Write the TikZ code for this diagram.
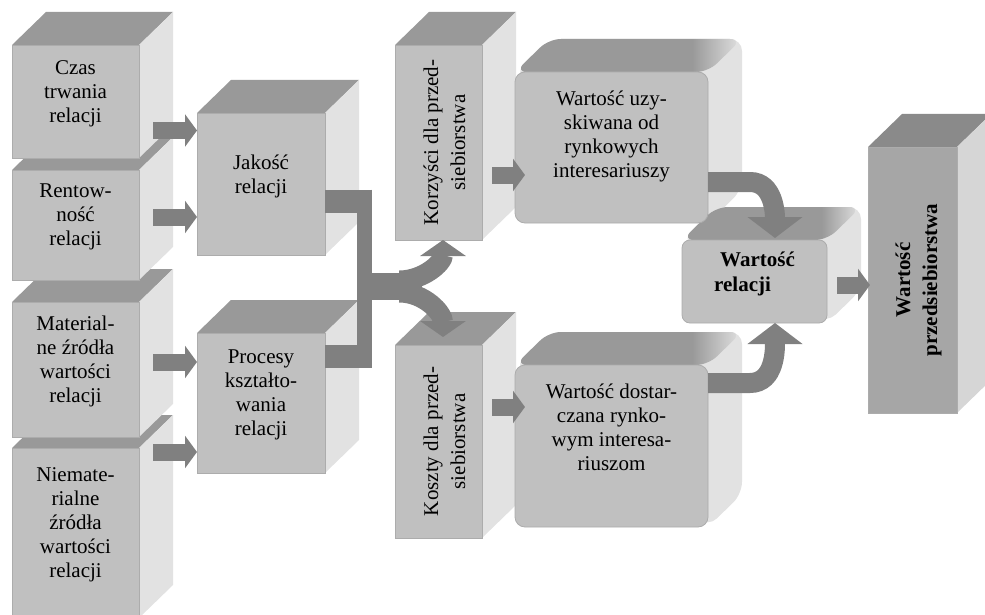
\documentclass[tikz,border=0pt]{standalone}
\usepackage{fontspec}
\setmainfont{Liberation Serif}
\usetikzlibrary{arrows.meta}

\definecolor{frontgray}{RGB}{192,192,192}
\definecolor{topgray}{RGB}{153,153,153}
\definecolor{sidegray}{RGB}{226,226,226}
\definecolor{edgegray}{RGB}{172,172,172}
\definecolor{flowgray}{RGB}{128,128,128}
\definecolor{darkfront}{RGB}{166,166,166}
\definecolor{darktop}{RGB}{138,138,138}
\definecolor{darkside}{RGB}{214,214,214}

\pgfdeclarelayer{back}
\pgfsetlayers{back,main}

\pgfdeclarehorizontalshading{topfade}{100bp}{color(0bp)=(topgray); color(64bp)=(topgray); color(75bp)=(sidegray); color(100bp)=(sidegray)}

% top and right face of a box, behind its front node
\newcommand{\boxfaces}[3]{%
  \begin{pgfonlayer}{back}
    \fill[#2] (#1.north west) -- ++(34,-33) -- ([shift={(34,-33)}]#1.north east) -- (#1.north east) -- cycle;
    \fill[#3] (#1.north east) -- ++(34,-33) -- ([shift={(34,-33)}]#1.south east) -- (#1.south east) -- cycle;
  \end{pgfonlayer}}
% same for the rounded boxes
\newcommand{\roundfaces}[1]{%
  \begin{pgfonlayer}{back}
    \fill[sidegray, rounded corners=12pt] (#1.north west) -- ++(34,-33) -- ([shift={(34,-33)}]#1.north east) -- ([shift={(34,-33)}]#1.south east) -- (#1.south east) -- cycle;
    \shade[shading=topfade, rounded corners=12pt] (#1.north west) -- ++(34,-33) -- ([shift={(34,-33)}]#1.north east) -- (#1.north east) -- cycle;
  \end{pgfonlayer}}

\tikzset{
  facebox/.style={draw=edgegray, line width=0.8pt, fill=frontgray, inner sep=0pt, outer sep=0pt,
    anchor=north west, align=center, text depth=20pt, font=\fontsize{21}{24}\selectfont},
  sidetext/.style={rotate=90, align=center, font=\fontsize{21}{27}\selectfont},
  blockarrow/.style={draw=flowgray, line width=17pt, -{Triangle[width=32pt,length=12pt]}, shorten <=14pt},
  forkarrow/.style={draw=flowgray, line width=20pt, -{Triangle[width=45pt,length=16pt]}},
  bendarrow/.style={draw=flowgray, line width=20pt, -{Triangle[width=54pt,length=21pt]}},
}

\begin{document}
\begin{tikzpicture}[x=1pt, y=-1pt]
\useasboundingbox (0,0) rectangle (985,615);

% left column, lowest box first
\node[facebox, minimum width=127pt, minimum height=170pt] (niemat) at (12,448) {Niemate-\\rialne\\źródła\\wartości\\relacji};
\boxfaces{niemat}{topgray}{sidegray}
\node[facebox, minimum width=127pt, minimum height=135pt] (mater) at (12,302) {Material-\\ne źródła\\wartości\\relacji};
\boxfaces{mater}{topgray}{sidegray}
\node[facebox, minimum width=127pt, minimum height=110pt] (rent) at (12,170) {Rentow-\\ność\\relacji};
\boxfaces{rent}{topgray}{sidegray}
\node[facebox, minimum width=127pt, minimum height=113pt] (czas) at (12,45) {Czas\\trwania\\relacji};
\boxfaces{czas}{topgray}{sidegray}

% second column
\node[facebox, minimum width=128pt, minimum height=142pt] (jakosc) at (197,113) {Jakość\\relacji};
\boxfaces{jakosc}{topgray}{sidegray}
\node[facebox, minimum width=128pt, minimum height=140pt] (procesy) at (197,333) {Procesy\\kształto-\\wania\\relacji};
\boxfaces{procesy}{topgray}{sidegray}

% benefits and costs
\node[facebox, minimum width=87pt, minimum height=195pt] (korz) at (395,45) {};
\boxfaces{korz}{topgray}{sidegray}
\node[sidetext] (korz-t) at ([xshift=6pt]korz.center) {Korzyści dla przed-\\siebiorstwa};
\node[facebox, minimum width=87pt, minimum height=193pt] (koszty) at (395,345) {};
\boxfaces{koszty}{topgray}{sidegray}
\node[sidetext] (koszty-t) at ([xshift=6pt]koszty.center) {Koszty dla przed-\\siebiorstwa};

% rounded boxes
\node[facebox, rounded corners=10pt, minimum width=193pt, minimum height=151pt, text depth=27pt] (uzysk) at (515,72) {Wartość uzy-\\skiwana od\\rynkowych\\interesariuszy};
\roundfaces{uzysk}
\node[facebox, rounded corners=10pt, minimum width=193pt, minimum height=162pt, text depth=38pt] (dostar) at (515,365) {Wartość dostar-\\czana rynko-\\wym interesa-\\riuszom};
\roundfaces{dostar}
\node[facebox, rounded corners=8pt, minimum width=145pt, minimum height=83pt, align=left, font=\fontsize{21}{25}\selectfont\bfseries] (relacji) at (682,240) {\hspace*{6pt}Wartość\\relacji};
\roundfaces{relacji}

% result
\node[facebox, fill=darkfront, minimum width=89pt, minimum height=266pt] (przeds) at (868,147) {};
\boxfaces{przeds}{darktop}{darkside}
\node[sidetext, font=\fontsize{21}{27}\selectfont\bfseries] (przeds-t) at ([xshift=6pt]przeds.center) {Wartość\\przedsiebiorstwa};

% arrows
\draw[blockarrow] ([yshift=-29pt]czas.east) -- ([yshift=-29pt]czas.east -| jakosc.west);
\draw[blockarrow] ([yshift=8pt]rent.east) -- ([yshift=8pt]rent.east -| jakosc.west);
\draw[blockarrow] ([yshift=7.5pt]mater.east) -- ([yshift=7.5pt]mater.east -| procesy.west);
\draw[blockarrow] ([yshift=81pt]niemat.east) -- ([yshift=81pt]niemat.east -| procesy.west);

% fork
\coordinate (fork) at (364.5,286.5);
\draw[flowgray, line width=23pt] ([yshift=-17pt]jakosc.east) -- ++(47,0);
\draw[flowgray, line width=23pt] ([yshift=47pt]procesy.east) -- ++(47,0);
\draw[flowgray, line width=15pt] (fork) ++(0,-97) -- ++(0,178);
\draw[flowgray, line width=27pt] (fork) ++(7,0) -- ++(50,0);
\draw[forkarrow] (fork) ++(35,-6) to[out=0,in=-90] ([xshift=4.5pt]korz.south);
\draw[forkarrow] (fork) ++(35,6) to[out=0,in=90] ([xshift=4.5pt,yshift=8pt]koszty.north);

\draw[blockarrow, shorten <=10pt] ([yshift=-32.5pt]korz.east) -- ++(43,0);
\draw[blockarrow, shorten <=10pt] ([yshift=34.5pt]koszty.east) -- ++(43,0);
\draw[bendarrow] ([yshift=-34.5pt]uzysk.east) -- ++(42,0) to[out=0,in=90] ([xshift=20.5pt,yshift=2pt]relacji.north);
\draw[bendarrow] ([yshift=63pt]dostar.east) -- ++(42,0) to[out=0,in=-90] ([xshift=20.5pt]relacji.south);
\draw[blockarrow, shorten <=10pt] ([yshift=-3.5pt]relacji.east) -- ++(43,0);
\end{tikzpicture}
\end{document}
